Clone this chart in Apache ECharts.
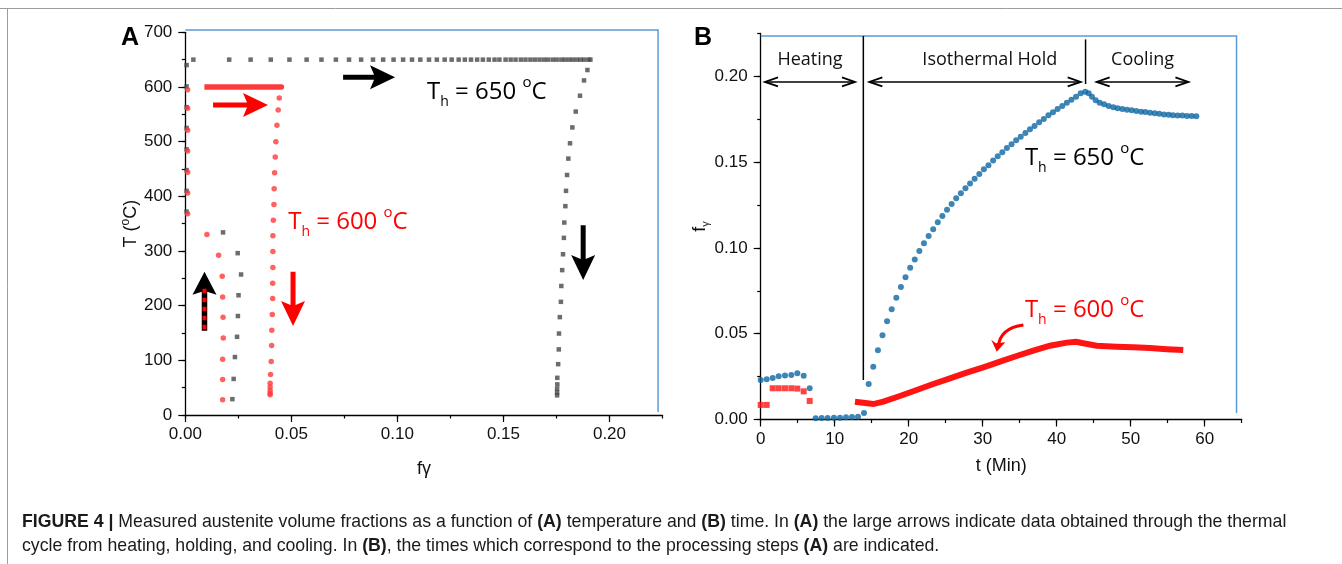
<!DOCTYPE html>
<html>
<head>
<meta charset="utf-8">
<script src="https://cdn.jsdelivr.net/npm/echarts@6/dist/echarts.min.js"></script>
<style>
  html, body { margin: 0; padding: 0; background: #fff; }
  #chart { width: 1342px; height: 564px; }
</style>
</head>
<body>
<div id="chart"></div>
<script>
// ===== Panel A: austenite fraction f(gamma) against temperature =====
// T_h = 650 C run (heating / cooling legs; the hold uses the time series below)
const heat650FracA = [0.0222, 0.0228, 0.0234, 0.0244, 0.0248, 0.0251, 0.0263, 0.0247, 0.0178,
                      0.0006, 0.0006, 0.0006, 0.0006, 0.0006, 0.0006, 0.0006, 0.0006];
const heat650TempA = [29, 66, 106, 143, 181, 219, 257, 296, 334, 372, 410, 448, 486, 525, 563, 601, 640];
const cool650FracA = [0.1896, 0.1880, 0.1861, 0.1841, 0.1825, 0.1814, 0.1806, 0.1800, 0.1795, 0.1792,
                      0.1787, 0.1785, 0.1781, 0.1777, 0.1773, 0.1771, 0.1766, 0.1762, 0.1761, 0.1758,
                      0.1754, 0.1754, 0.1753, 0.1753, 0.1753];
const cool650TempA = [631, 612, 584, 555, 526, 497, 469, 439, 410, 382, 352, 324, 294, 265, 236, 207,
                      179, 149, 120, 93, 68, 56, 48, 41, 36];
const holdTemp650 = 650;

// T_h = 600 C run
const heat600FracA = [0.0176, 0.0176, 0.0176, 0.0179, 0.0178, 0.0176, 0.0174, 0.0157, 0.0102,
                      0.0011, 0.0011, 0.0011, 0.0011, 0.0011, 0.0011, 0.0011];
const heat600TempA = [28, 65, 102, 141, 179, 216, 254, 292, 330, 368, 406, 444, 483, 521, 561, 595];
const cool600FracA = [0.0443, 0.0438, 0.0432, 0.0427, 0.0424, 0.0421, 0.0419, 0.0418, 0.0415, 0.0413,
                      0.0413, 0.0413, 0.0412, 0.0412, 0.0410, 0.0408, 0.0407, 0.0405, 0.0402, 0.0400,
                      0.0400, 0.0400, 0.0400, 0.0400];
const cool600TempA = [580, 558, 530, 500, 472, 443, 414, 385, 356, 328, 299, 270, 241, 213, 184, 155,
                      127, 98, 74, 58, 51, 45, 40, 37];
const holdTemp600 = 600;

// ===== Panel B: austenite fraction against time (min) =====
const heat650Time = [0.00, 0.81, 1.62, 2.43, 3.28, 4.14, 4.95, 5.81, 6.62, 7.43, 8.24, 9.05, 9.90,
                     10.72, 11.53, 12.34, 13.15];
const heat650Frac = [0.0230, 0.0234, 0.0242, 0.0252, 0.0257, 0.0259, 0.0269, 0.0255, 0.0182, 0.0007,
                     0.0009, 0.0009, 0.0010, 0.0010, 0.0013, 0.0015, 0.0016];
const hold650Time = [13.96, 14.59, 15.21, 15.84, 16.46, 17.08, 17.70, 18.33, 18.95, 19.57, 20.20,
                     20.82, 21.44, 22.06, 22.69, 23.31, 23.93, 24.55, 25.18, 25.80, 26.42, 27.05,
                     27.67, 28.29, 28.91, 29.54, 30.16, 30.78, 31.41, 32.03, 32.65, 33.27, 33.90,
                     34.52, 35.14, 35.77, 36.39, 37.01, 37.63, 38.26, 38.88, 39.50, 40.12, 40.75,
                     41.37, 41.99, 42.62, 43.24, 43.86];
const hold650Frac = [0.0038, 0.0207, 0.0308, 0.0403, 0.0491, 0.0572, 0.0642, 0.0710, 0.0772, 0.0829,
                     0.0885, 0.0933, 0.0982, 0.1027, 0.1069, 0.1108, 0.1149, 0.1186, 0.1223, 0.1256,
                     0.1289, 0.1318, 0.1347, 0.1376, 0.1403, 0.1431, 0.1458, 0.1481, 0.1510, 0.1534,
                     0.1557, 0.1582, 0.1604, 0.1627, 0.1648, 0.1670, 0.1691, 0.1710, 0.1732, 0.1751,
                     0.1773, 0.1790, 0.1810, 0.1827, 0.1846, 0.1864, 0.1881, 0.1901, 0.1910];
const cool650Time = [44.32, 44.77, 45.27, 45.81, 46.40, 47.02, 47.65, 48.24, 48.87, 49.50, 50.13,
                     50.76, 51.40, 51.98, 52.61, 53.24, 53.87, 54.50, 55.13, 55.72, 56.35, 56.98,
                     57.61, 58.24, 58.87];
const cool650Frac = [0.1901, 0.1881, 0.1860, 0.1846, 0.1837, 0.1827, 0.1819, 0.1814, 0.1810, 0.1805,
                     0.1802, 0.1798, 0.1794, 0.1792, 0.1788, 0.1784, 0.1782, 0.1778, 0.1776, 0.1773,
                     0.1771, 0.1771, 0.1769, 0.1769, 0.1767];

const heat600Time = [0.00, 0.81, 1.62, 2.43, 3.28, 4.14, 4.95, 5.81, 6.62];
const heat600Frac = [0.0085, 0.0085, 0.0182, 0.0182, 0.0182, 0.0182, 0.0180, 0.0164, 0.0108];
const hold600Time = [12.74, 13.87, 15.22, 16.57, 18.82, 21.08, 23.32, 25.58, 27.83, 30.08, 32.34,
                     34.59, 36.84, 39.09, 41.35, 42.61];
const hold600Frac = [0.0104, 0.0098, 0.0090, 0.0104, 0.0137, 0.0172, 0.0207, 0.0240, 0.0273, 0.0304,
                     0.0337, 0.0370, 0.0401, 0.0430, 0.0448, 0.0453];
const cool600Time = [43.60, 45.40, 48.10, 50.35, 52.60, 54.86, 57.10];
const cool600Frac = [0.0444, 0.0430, 0.0424, 0.0421, 0.0417, 0.0410, 0.0405];

// tick labels
const ticksA_x = [0, 0.05, 0.10, 0.15, 0.20];
const ticksA_y = [0, 100, 200, 300, 400, 500, 600, 700];
const ticksB_x = [0, 10, 20, 30, 40, 50, 60];
const ticksB_y = [0, 0.05, 0.10, 0.15, 0.20];

// process stages shown above panel B
const stageNames = ['Heating', 'Isothermal Hold', 'Cooling'];
const stageSpans = [[0.58, 12.74], [14.68, 43.24], [45.4, 57.8]];
const stageDividers = [13.87, 43.9];

// ---------------------------------------------------------------
const FONT = '"Liberation Sans", Arial, sans-serif';
const ANN = '"Open Sans", sans-serif';
const RED_A = '#ff3a3a';
const RED_B = '#ff1414';
const BLUE = '#0b66a2';
const GREY = '#474747';
const FRAME = '#5b9bd5';

const pairs = (xs, ys) => xs.map((x, i) => [x, Array.isArray(ys) ? ys[i] : ys]);

function mainAxis(gridIndex, min, max, step, labels, fmt, margin, nameOpts) {
  return Object.assign({
    type: 'value', gridIndex, min, max, interval: step,
    nameMoveOverlap: false,
    splitLine: { show: false },
    axisLine: { show: true, onZero: false, lineStyle: { color: '#000', width: 1.3 } },
    axisTick: { show: true, length: 3.5, lineStyle: { color: '#000', width: 1.2 } },
    axisLabel: { customValues: labels, formatter: fmt, color: '#111', fontSize: 17,
                 fontFamily: FONT, margin: margin }
  }, nameOpts);
}
function majorTicks(gridIndex, min, max, step, labels, position) {
  return {
    type: 'value', gridIndex, min, max, interval: step, position, offset: 0,
    splitLine: { show: false },
    axisLine: { show: false, onZero: false },
    axisTick: { show: true, customValues: labels, length: 7, lineStyle: { color: '#000', width: 1.2 } },
    axisLabel: { show: false }
  };
}
const f2 = v => v.toFixed(2);
const f0 = v => String(Math.round(v));

const chart = echarts.init(document.getElementById('chart'));

chart.setOption({
  animation: false,
  backgroundColor: '#fff',
  grid: [
    { left: 185.3, top: 32.3, width: 477.2, height: 382.7 },
    { left: 760.7, top: 33.4, width: 481, height: 386.1 }
  ],
  xAxis: [
    mainAxis(0, 0, 0.225, 0.025, ticksA_x, f2, 11, {
      position: 'bottom', name: 'fγ', nameLocation: 'middle', nameGap: 45,
      nameTextStyle: { fontSize: 18, fontFamily: FONT, color: '#111' } }),
    majorTicks(0, 0, 0.225, 0.025, ticksA_x, 'bottom'),
    mainAxis(1, 0, 65, 5, ticksB_x, f0, 11, {
      position: 'bottom', name: 't (Min)', nameLocation: 'middle', nameGap: 38,
      nameTextStyle: { fontSize: 18, fontFamily: FONT, color: '#111' } }),
    majorTicks(1, 0, 65, 5, ticksB_x, 'bottom')
  ],
  yAxis: [
    mainAxis(0, 0, 700, 50, ticksA_y, f0, 13, {
      position: 'left', name: '{m|T (}{s|o}{m|C)}', nameLocation: 'middle', nameGap: 42,
      nameTextStyle: { fontSize: 18, fontFamily: FONT, color: '#111',
        rich: { m: { fontSize: 18, fontFamily: FONT, lineHeight: 24, verticalAlign: 'middle' },
                s: { fontSize: 12, fontFamily: FONT, lineHeight: 14, verticalAlign: 'top' } } } }),
    majorTicks(0, 0, 700, 50, ticksA_y, 'left'),
    mainAxis(1, 0, 0.225, 0.025, ticksB_y, f2, 13, {
      position: 'left', name: '{m|f}{s|γ}', nameLocation: 'middle', nameGap: 49,
      nameTextStyle: { fontSize: 18, fontFamily: FONT, color: '#111',
        rich: { m: { fontSize: 18, fontFamily: FONT, lineHeight: 24, verticalAlign: 'middle' },
                s: { fontSize: 11, fontFamily: FONT, lineHeight: 12, verticalAlign: 'bottom' } } } }),
    majorTicks(1, 0, 0.225, 0.025, ticksB_y, 'left')
  ],
  series: [
    // ---- panel A ----
    { type: 'scatter', xAxisIndex: 0, yAxisIndex: 0, symbol: 'rect', symbolSize: 4.5,
      itemStyle: { color: GREY }, data: pairs(heat650FracA, heat650TempA) },
    { type: 'scatter', xAxisIndex: 0, yAxisIndex: 0, symbol: 'rect', symbolSize: 4.5,
      itemStyle: { color: GREY }, data: pairs(hold650Frac, holdTemp650) },
    { type: 'scatter', xAxisIndex: 0, yAxisIndex: 0, symbol: 'rect', symbolSize: 4.5,
      itemStyle: { color: GREY }, data: pairs(cool650FracA, cool650TempA) },
    { type: 'scatter', xAxisIndex: 0, yAxisIndex: 0, symbol: 'circle', symbolSize: 5.5,
      itemStyle: { color: RED_A }, data: pairs(heat600FracA, heat600TempA) },
    { type: 'line', xAxisIndex: 0, yAxisIndex: 0, showSymbol: false, symbol: 'none',
      lineStyle: { color: RED_A, width: 5.5, cap: 'round' }, data: pairs(hold600Frac, holdTemp600) },
    { type: 'scatter', xAxisIndex: 0, yAxisIndex: 0, symbol: 'circle', symbolSize: 5.5,
      itemStyle: { color: RED_A }, data: pairs(cool600FracA, cool600TempA) },
    // ---- panel B ----
    { type: 'scatter', xAxisIndex: 2, yAxisIndex: 2, symbol: 'rect', symbolSize: 6,
      itemStyle: { color: RED_B }, data: pairs(heat600Time, heat600Frac) },
    { type: 'line', xAxisIndex: 2, yAxisIndex: 2, showSymbol: false, symbol: 'none',
      lineStyle: { color: RED_B, width: 6, join: 'miter' },
      data: pairs(hold600Time.concat(cool600Time), hold600Frac.concat(cool600Frac)) },
    { type: 'scatter', xAxisIndex: 2, yAxisIndex: 2, symbol: 'circle', symbolSize: 6,
      itemStyle: { color: BLUE },
      data: pairs(heat650Time.concat(hold650Time, cool650Time),
                  heat650Frac.concat(hold650Frac, cool650Frac)) }
  ]
});

// ---------- annotations positioned through the axes ----------
const P = (g, x, y) => chart.convertToPixel({ gridIndex: g }, [x, y]);

function arrowPoints(p0, p1, shaftW, headL, headW, notch) {
  const dx = p1[0] - p0[0], dy = p1[1] - p0[1], L = Math.hypot(dx, dy);
  const ux = dx / L, uy = dy / L, nx = -uy, ny = ux;
  const bx = p1[0] - ux * headL, by = p1[1] - uy * headL;
  const wx = bx - ux * notch, wy = by - uy * notch;
  const s = shaftW / 2, h = headW / 2;
  return [
    [p0[0] + nx * s, p0[1] + ny * s], [bx + nx * s, by + ny * s],
    [wx + nx * h, wy + ny * h], [p1[0], p1[1]], [wx - nx * h, wy - ny * h],
    [bx - nx * s, by - ny * s], [p0[0] - nx * s, p0[1] - ny * s]
  ];
}
function filledArrow(p0, p1, color, opt) {
  const o = Object.assign({ w: 5, hl: 21, hw: 24, notch: 4 }, opt || {});
  return { type: 'polygon', z: 100, shape: { points: arrowPoints(p0, p1, o.w, o.hl, o.hw, o.notch) },
           style: { fill: color } };
}
function chevron(tip, dir) {
  return { type: 'polyline', z: 100,
           shape: { points: [[tip[0] + dir * 13, tip[1] - 4.5], tip, [tip[0] + dir * 13, tip[1] + 4.5]] },
           style: { stroke: '#000', lineWidth: 1.8, fill: null } };
}
function richLabel(pt, tail, color, size) {
  const lh = Math.round(size * 1.42);
  return {
    type: 'text', z: 100,
    style: {
      x: pt[0], y: pt[1], align: 'left', verticalAlign: 'middle',
      text: '{m|T}{s|h}{m|' + tail + '}{u|o}{m|C}',
      fill: color,
      rich: {
        m: { fontSize: size, fontFamily: ANN, fill: color, lineHeight: lh, verticalAlign: 'middle' },
        s: { fontSize: Math.round(size * 0.6), fontFamily: ANN, fill: color,
             lineHeight: Math.round(size * 0.5), verticalAlign: 'bottom' },
        u: { fontSize: Math.round(size * 0.62), fontFamily: ANN, fill: color,
             lineHeight: Math.round(size * 0.8), verticalAlign: 'top' }
      }
    }
  };
}

const g = [];

// page rules
g.push({ type: 'line', shape: { x1: 0, y1: 8.5, x2: 1342, y2: 8.5 }, style: { stroke: '#9c9c9c', lineWidth: 1 } });
g.push({ type: 'line', shape: { x1: 7.5, y1: 8.5, x2: 7.5, y2: 564 }, style: { stroke: '#9c9c9c', lineWidth: 1 } });

// light blue plot frames
g.push({ type: 'polyline', z: 1, shape: { points: [P(0, 0, 704.2), P(0, 0.2229, 704.2), P(0, 0.2229, 5.5)] },
         style: { stroke: FRAME, lineWidth: 1.5, fill: null } });
g.push({ type: 'polyline', z: 1, shape: { points: [P(1, 0, 0.2235), P(1, 64.3, 0.2235), P(1, 64.3, 0.0038)] },
         style: { stroke: FRAME, lineWidth: 1.5, fill: null } });

// panel letters
g.push({ type: 'text', style: { x: 121, y: 38, text: 'A', align: 'left', verticalAlign: 'middle',
         font: 'bold 25px ' + FONT, fill: '#000' } });
g.push({ type: 'text', style: { x: 694, y: 38, text: 'B', align: 'left', verticalAlign: 'middle',
         font: 'bold 25px ' + FONT, fill: '#000' } });

// panel A arrows
g.push(filledArrow(P(0, 0.0744, 618), P(0, 0.0989, 618), '#000'));
g.push(filledArrow(P(0, 0.0131, 567), P(0, 0.0390, 567), '#ff0000'));
g.push(filledArrow(P(0, 0.0508, 262), P(0, 0.0508, 163), '#ff0000'));
g.push(filledArrow(P(0, 0.1876, 347), P(0, 0.1876, 247), '#000'));
const upBase = P(0, 0.00905, 154), upTip = P(0, 0.00905, 262);
g.push(filledArrow(upBase, upTip, '#000', { w: 5.5, hl: 20, hw: 24, notch: 3 }));
g.push({ type: 'line', z: 101, shape: { x1: upTip[0], y1: upTip[1] + 17, x2: upBase[0], y2: upBase[1] - 1 },
         style: { stroke: '#ff0000', lineWidth: 4, lineDash: [4.5, 4.5] } });

// panel A labels
g.push(richLabel(P(0, 0.114, 591), ' = 650 ', '#000', 24));
g.push(richLabel(P(0, 0.0485, 353), ' = 600 ', '#ff0000', 24));

// panel B stage dividers, double arrows and names
g.push({ type: 'line', z: 100, shape: { x1: P(1, stageDividers[0], 0)[0], y1: P(1, 0, 0.0230)[1],
         x2: P(1, stageDividers[0], 0)[0], y2: P(1, 0, 0.2235)[1] }, style: { stroke: '#000', lineWidth: 1.5 } });
g.push({ type: 'line', z: 100, shape: { x1: P(1, stageDividers[1], 0)[0], y1: P(1, 0, 0.1955)[1],
         x2: P(1, stageDividers[1], 0)[0], y2: P(1, 0, 0.2215)[1] }, style: { stroke: '#000', lineWidth: 1.5 } });
stageSpans.forEach((span, i) => {
  const a = P(1, span[0], 0.1967), b = P(1, span[1], 0.1967);
  g.push({ type: 'line', z: 100, shape: { x1: a[0], y1: a[1], x2: b[0], y2: b[1] },
           style: { stroke: '#000', lineWidth: 1.4 } });
  g.push(chevron(a, 1));
  g.push(chevron(b, -1));
  const c = P(1, (span[0] + span[1]) / 2 + [0, 2, 0][i], 0.2094);
  g.push({ type: 'text', z: 100, style: { x: c[0], y: c[1], text: stageNames[i], align: 'center',
           verticalAlign: 'middle', font: '18px ' + ANN, fill: '#111' } });
});

// panel B labels
g.push(richLabel(P(1, 35.7, 0.1524), ' = 650 ', '#000', 24));
g.push(richLabel(P(1, 35.7, 0.0638), ' = 600 ', '#ff0000', 24));

// curved red pointer toward the 600 C curve
const cs = P(1, 35.5, 0.0551), ce = P(1, 32.1, 0.0425), tip = P(1, 31.9, 0.0395);
g.push({ type: 'bezierCurve', z: 100,
         shape: { x1: cs[0], y1: cs[1], cpx1: ce[0] + 2, cpy1: cs[1] + 3, x2: ce[0], y2: ce[1] },
         style: { stroke: '#ff0000', lineWidth: 3, fill: null } });
g.push({ type: 'polygon', z: 100,
         shape: { points: [[tip[0] - 5.5, tip[1] - 12], [tip[0] - 1, tip[1] - 8.5], [tip[0] + 8.5, tip[1] - 9.5], tip] },
         style: { fill: '#ff0000' } });

// caption
g.push({
  type: 'text',
  style: {
    x: 22, y: 510, align: 'left', verticalAlign: 'top',
    text: '{b|FIGURE 4 |} Measured austenite volume fractions as a function of {b|(A)} temperature and {b|(B)} time. In {b|(A)} the large arrows indicate data obtained through the thermal\n' +
          'cycle from heating, holding, and cooling. In {b|(B)}, the times which correspond to the processing steps {b|(A)} are indicated.',
    font: '17.7px ' + FONT, fill: '#1a1a1a', lineHeight: 24,
    rich: { b: { fontWeight: 'bold', fontSize: 17.7, fontFamily: FONT, fill: '#1a1a1a', lineHeight: 24 } }
  }
});

chart.setOption({ graphic: g });
</script>
</body>
</html>
